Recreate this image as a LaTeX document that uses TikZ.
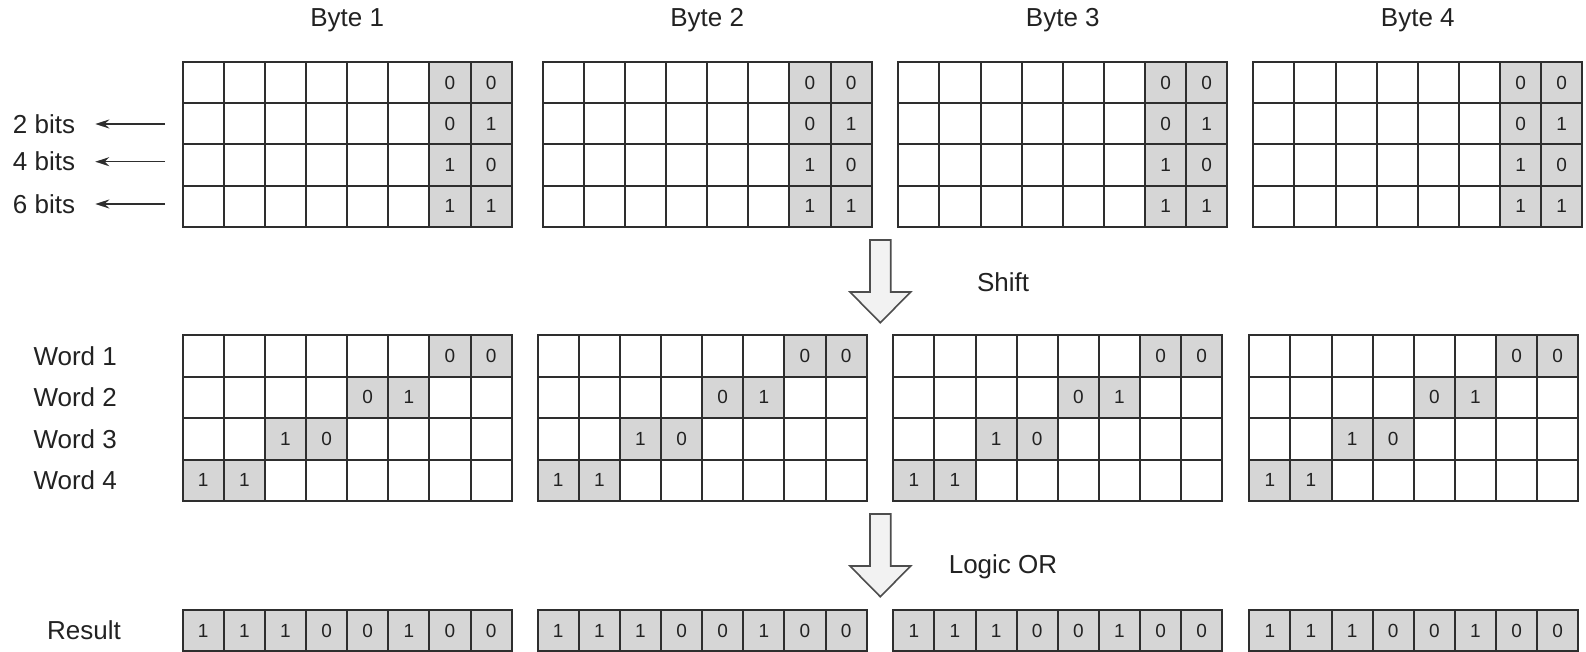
\documentclass[tikz,border=0pt]{standalone}
\usepackage{fontspec}
\setmainfont{Liberation Sans}
\usepackage{tikz}
\usetikzlibrary{arrows.meta,calc}
\usepackage{xcolor}
\definecolor{gridline}{HTML}{2E2E2E}
\definecolor{bitfill}{HTML}{D6D6D6}
\definecolor{shiftfill}{HTML}{F2F2F2}
\definecolor{ink}{HTML}{222222}

\begin{document}
\begin{tikzpicture}[x=1pt,y=-1pt,
  lbl/.style={font=\fontsize{26}{30}\selectfont,text=ink,inner sep=0pt},
  bit/.style={font=\fontsize{19}{24}\selectfont,text=ink,inner sep=0pt},
  cellline/.style={gridline,line width=2pt},
  bigarrow/.style={draw=gridline!85,fill=shiftfill,line width=1.6pt,line join=miter}]
  \useasboundingbox (0,0) rectangle (1586,652);

  % Bytes with the 2-bit values
  \foreach \g/\x in {1/182.7,2/542.7,3/898.3,4/1253.3} {
    \node[lbl,anchor=base] (byte\g) at (\x+164.5,27) {Byte \g};
    \fill[bitfill] (\x+246.75,62) rectangle (\x+329,226.7);
    \draw[cellline] (\x,62) rectangle (\x+329,226.7);
    \foreach \c in {1,...,7}
      \draw[cellline] (\x+\c*41.125,62) -- (\x+\c*41.125,226.7);
    \foreach \r in {1,2,3}
      \draw[cellline] (\x,62+\r*41.175) -- (\x+329,62+\r*41.175);
    \foreach \r/\a/\b in {1/0/0,2/0/1,3/1/0,4/1/1} {
      \node[bit] (t\g-\r-a) at (\x+267.3,62+\r*41.175-20.6) {\a};
      \node[bit] (t\g-\r-b) at (\x+308.4,62+\r*41.175-20.6) {\b};
    }
  }

  % Shift amounts
  \foreach \n/\yy in {2/124,4/161.7,6/204} {
    \node[lbl,anchor=west] (bits\n) at (12.7,\yy) {\n\ bits};
    \coordinate (from\n) at (165,\yy);
    \draw[gridline,line width=1.6pt,-{Stealth[length=14pt,width=9pt]},shorten >=20pt] (from\n) -- (bits\n.east);
  }

  % Block arrows
  \foreach \yt in {240,514}
    \draw[bigarrow] (870,\yt) -- (890.7,\yt) -- (890.7,\yt+52) -- (910.7,\yt+52)
      -- (880.3,\yt+82.7) -- (850,\yt+52) -- (870,\yt+52) -- cycle;
  \node[lbl,anchor=base] (shift) at (1003,291) {Shift};
  \node[lbl,anchor=base] (logicor) at (1003,573.3) {Logic OR};

  % Shifted words
  \foreach \r in {1,...,4}
    \node[lbl,anchor=base west] (word\r) at (33.3,365+\r*41.5-41.5) {Word \r};
  \foreach \g/\x in {1/182.7,2/537.7,3/893.3,4/1249.3} {
    \foreach \r/\a/\b in {1/0/0,2/0/1,3/1/0,4/1/1} {
      \pgfmathsetmacro\cl{\x+(8-2*\r)*41.125}
      \fill[bitfill] (\cl,335+\r*41.5-41.5) rectangle (\cl+82.25,335+\r*41.5);
      \node[bit] (w\g-\r-a) at (\cl+20.56,335+\r*41.5-20.75) {\a};
      \node[bit] (w\g-\r-b) at (\cl+61.69,335+\r*41.5-20.75) {\b};
    }
    \draw[cellline] (\x,335) rectangle (\x+329,501);
    \foreach \c in {1,...,7}
      \draw[cellline] (\x+\c*41.125,335) -- (\x+\c*41.125,501);
    \foreach \r in {1,2,3}
      \draw[cellline] (\x,335+\r*41.5) -- (\x+329,335+\r*41.5);
  }

  % Result of the OR
  \node[lbl] (result) at (84,630) {Result};
  \foreach \g/\x in {1/182.7,2/537.7,3/893.3,4/1249.3} {
    \fill[bitfill] (\x,610) rectangle (\x+329,651);
    \draw[cellline] (\x,610) rectangle (\x+329,651);
    \foreach \c in {1,...,7}
      \draw[cellline] (\x+\c*41.125,610) -- (\x+\c*41.125,651);
    \foreach \v [count=\c] in {1,1,1,0,0,1,0,0}
      \node[bit] (r\g-\c) at (\x+\c*41.125-20.56,630.5) {\v};
  }
\end{tikzpicture}
\end{document}
